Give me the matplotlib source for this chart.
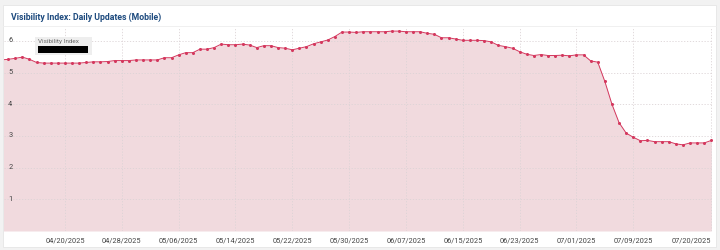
import numpy as np
import pandas as pd
import matplotlib
matplotlib.use("Agg")
import matplotlib.pyplot as plt
from matplotlib.patches import Rectangle

plt.rcParams['font.family'] = ['Roboto', 'DejaVu Sans']

# daily visibility index values, 04/11/2025 .. 07/20/2025
start_date = "2025-04-11"
visibility = [
    5.40,
    5.42, 5.45, 5.49, 5.42, 5.32, 5.30, 5.30, 5.30, 5.30, 5.30,
    5.30, 5.32, 5.34, 5.34, 5.35, 5.38, 5.38, 5.38, 5.40, 5.40,
    5.40, 5.40, 5.47, 5.47, 5.56, 5.63, 5.63, 5.74, 5.74, 5.79,
    5.90, 5.88, 5.88, 5.90, 5.87, 5.79, 5.85, 5.85, 5.79, 5.77,
    5.72, 5.77, 5.82, 5.91, 5.97, 6.03, 6.14, 6.28, 6.28, 6.27,
    6.29, 6.29, 6.29, 6.29, 6.31, 6.31, 6.29, 6.29, 6.29, 6.24,
    6.21, 6.10, 6.10, 6.06, 6.02, 6.02, 6.02, 6.01, 5.97, 5.86,
    5.82, 5.77, 5.66, 5.58, 5.54, 5.57, 5.54, 5.54, 5.55, 5.53,
    5.56, 5.56, 5.37, 5.33, 4.72, 4.00, 3.42, 3.09, 2.96, 2.85,
    2.86, 2.82, 2.82, 2.82, 2.75, 2.72, 2.78, 2.78, 2.78, 2.86,
]
dates = pd.date_range(start_date, periods=len(visibility), freq="D")

tick_dates = pd.to_datetime([
    "2025-04-20", "2025-04-28", "2025-05-06", "2025-05-14", "2025-05-22",
    "2025-05-30", "2025-06-07", "2025-06-15", "2025-06-23", "2025-07-01",
    "2025-07-09", "2025-07-20",
])
y_ticks = [1, 2, 3, 4, 5, 6]

line_color = "#d4385e"
fill_color = "#f1dade"
grid_color = "#dcd4d6"

fig = plt.figure(figsize=(7.2, 2.5), dpi=100, facecolor="#f2f2f2")

# white card behind everything
fig.patches.append(Rectangle((3 / 720, 3 / 250), 713 / 720, 242 / 250,
                             transform=fig.transFigure, facecolor="white",
                             edgecolor="#e6e6e6", lw=0.6, zorder=-10))
fig.text(11 / 720, 1 - 17 / 250, "Visibility Index: Daily Updates (Mobile)",
         fontsize=6.3, fontweight="bold", color="#1e4b7f", va="center")
fig.add_artist(plt.Line2D([3 / 720, 716 / 720], [1 - 26 / 250, 1 - 26 / 250],
                          transform=fig.transFigure, color="#eeeeee", lw=0.6,
                          zorder=-5))

ax = fig.add_axes([4 / 720, 19 / 250, 708 / 720, 204 / 250])
ax.set_facecolor("white")

ax.fill_between(dates, 0, visibility, color=fill_color, lw=0, zorder=1)
ax.plot(dates, visibility, color=line_color, lw=0.7, marker="o",
        markersize=2.2, markeredgewidth=0, zorder=3)

ax.set_ylim(0, 6.44)
ax.set_xlim(pd.Timestamp("2025-04-11 10:00"), pd.Timestamp("2025-07-20 02:00"))

ax.set_yticks(y_ticks)
ax.set_xticks(tick_dates)
ax.set_xticklabels([d.strftime("%m/%d/%Y") for d in tick_dates],
                   fontsize=5.3, color="#444444")
labels = ax.get_xticklabels()
labels[-1].set_horizontalalignment("right")
ax.tick_params(axis="x", length=0, pad=5)
ax.tick_params(axis="y", length=0, labelleft=False)

for v in y_ticks:
    ax.text(0.006, v, str(v), transform=ax.get_yaxis_transform(),
            fontsize=5.3, color="#444444", va="center", ha="left", zorder=4)

ax.grid(True, color=grid_color, lw=0.6, linestyle=(0, (1.5, 2)), zorder=2)
ax.set_axisbelow(False)
for s in ax.spines.values():
    s.set_visible(False)

# legend-like label box
fig.patches.append(Rectangle((35 / 720, 1 - 55 / 250), 57 / 720, 18 / 250,
                             transform=fig.transFigure, facecolor="#eeeeee",
                             edgecolor="none", zorder=5))
fig.text(38 / 720, 1 - 42 / 250, "Visibility Index", fontsize=4.6,
         color="#666666", va="center", zorder=6)
fig.patches.append(Rectangle((38 / 720, 1 - 53 / 250), 50 / 720, 7 / 250,
                             transform=fig.transFigure, facecolor="black",
                             edgecolor="none", zorder=6))

fig.savefig("out.png", dpi=100, facecolor=fig.get_facecolor())
